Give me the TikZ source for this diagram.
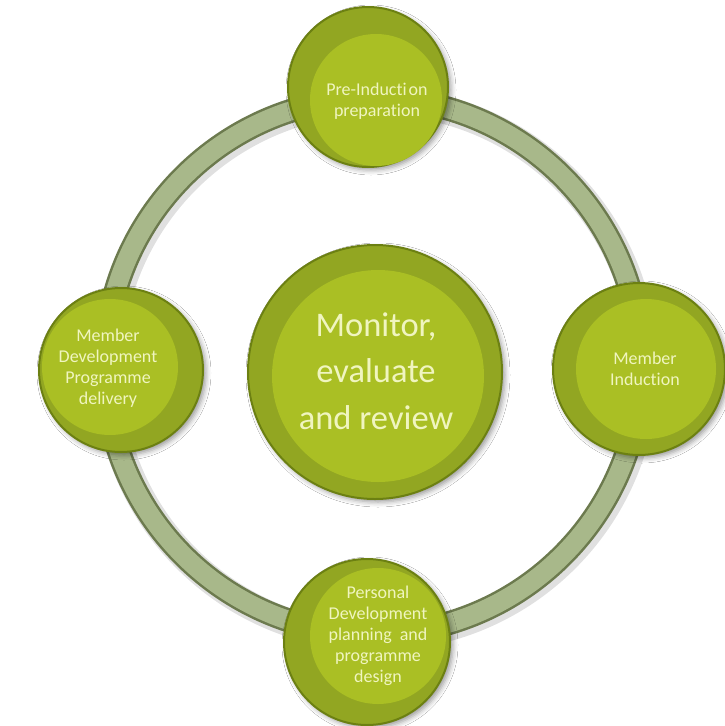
\documentclass[tikz,border=0pt]{standalone}
\usepackage{fontspec}
\setmainfont[Ligatures=NoCommon]{Carlito}
\usetikzlibrary{shadows.blur}
\definecolor{ringfill}{RGB}{168,184,138}
\definecolor{ringline}{RGB}{108,122,78}
\definecolor{outerc}{RGB}{146,166,34}
\definecolor{outerl}{RGB}{108,128,18}
\definecolor{innerc}{RGB}{170,191,36}
\definecolor{txt}{RGB}{240,245,192}
\begin{document}
\begin{tikzpicture}[x=1pt,y=-1pt,
  outerdisk/.style={circle, fill=outerc, draw=outerl, line width=2pt, inner sep=0pt,
    blur shadow={shadow xshift=3pt, shadow yshift=-3pt, shadow blur radius=5pt, shadow opacity=40}},
  innerdisk/.style={circle, fill=innerc, draw=none, inner sep=0pt},
  smalltxt/.style={text=txt, font=\fontsize{18}{21}\selectfont, align=center, inner sep=0pt},
  bigtxt/.style={text=txt, font=\fontsize{34.5}{46.5}\selectfont, align=center, inner sep=0pt}]
\useasboundingbox (0,0) rectangle (725,726);
\fill[white] (0,0) rectangle (725,726);
% ring
\coordinate (rc) at (373,366);
\coordinate (rcs) at (376,369);
\draw[black, opacity=0.12, line width=28pt] (rcs) circle[radius=268];
\draw[ringline, line width=24pt] (rc) circle[radius=268];
\draw[ringfill, line width=19pt] (rc) circle[radius=268];
% top
\node[outerdisk, minimum size=160pt] (top) at (368,87) {};
\node[innerdisk, minimum size=132pt] (topin) at (376,100) {};
\node[smalltxt] (toptxt) at (377,101) {Pre-Inducti\hspace{2pt}on\\preparation};
% right
\node[outerdisk, minimum size=172pt] (right) at (639,369) {};
\node[innerdisk, minimum size=140pt] (rightin) at (646,369) {};
\node[smalltxt] (righttxt) at (645,369) {Member\\Induction};
% bottom
\node[outerdisk, minimum size=166pt] (bottom) at (367,642) {};
\node[innerdisk, minimum size=136pt] (bottomin) at (378,636) {};
\node[smalltxt] (bottomtxt) at (378,636) {Personal\\Development\\planning\hspace{4pt} and\\programme\\design};
% left
\node[outerdisk, minimum size=164pt] (left) at (121,370) {};
\node[innerdisk, minimum size=136pt] (leftin) at (110,367) {};
\node[smalltxt] (lefttxt) at (108,368) {Member\\Development\\Programme\\delivery};
% centre
\node[outerdisk, minimum size=254pt] (centre) at (375,372) {};
\node[innerdisk, minimum size=212pt] (centrein) at (378,376) {};
\node[bigtxt] (centretxt) at (376,371) {Monitor,\\evaluate\\and review};
\end{tikzpicture}
\end{document}
